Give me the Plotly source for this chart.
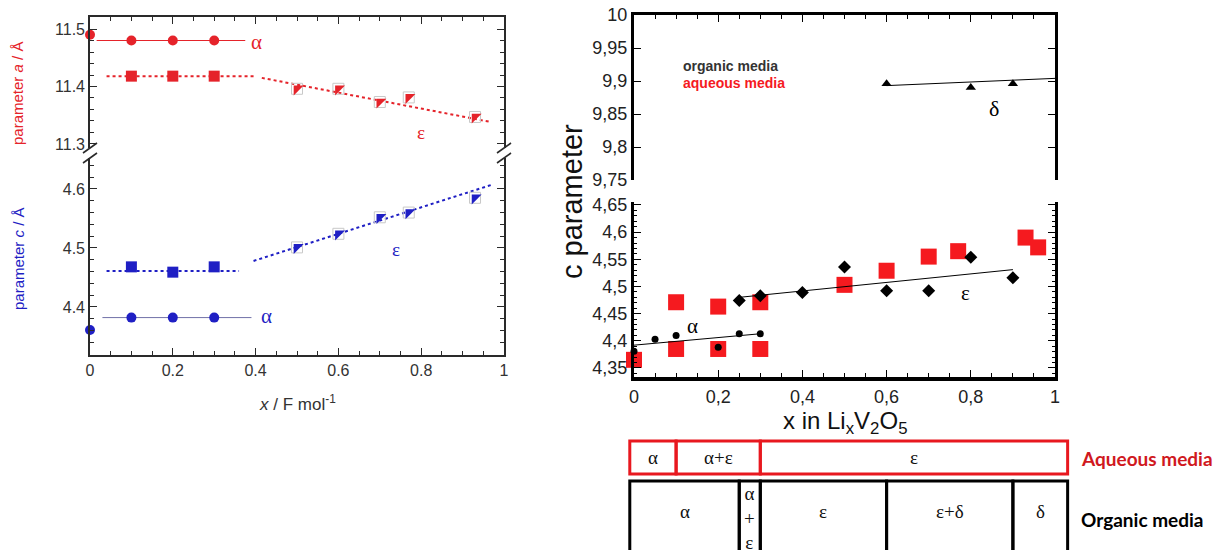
import plotly.graph_objects as go

# The page body adds an 8 px offset; the figure is shrunk by that much and
# every pixel position below is given in window pixels.
OFF = 8
W, H = 1221 - OFF, 550 - OFF

# ---------------- Left panel data ----------------
x_alpha = [0, 0.1, 0.2, 0.3]
a_alpha = [11.49, 11.48, 11.48, 11.48]
x_eps1 = [0.1, 0.2, 0.3]
a_eps1 = [11.418, 11.418, 11.418]
x_eps2 = [0.5, 0.6, 0.7, 0.77, 0.93]
a_eps2 = [11.396, 11.396, 11.373, 11.381, 11.347]
c_alpha = [4.361, 4.382, 4.382, 4.382]
c_eps1 = [4.468, 4.459, 4.468]
c_eps2 = [4.501, 4.524, 4.552, 4.560, 4.585]

a_alpha_fit_x = [0.016, 0.375]; a_alpha_fit_y = [11.48, 11.48]
a_eps_fit1_x = [0.04, 0.40]; a_eps_fit1_y = [11.418, 11.418]
a_eps_fit2_x = [0.415, 0.97]; a_eps_fit2_y = [11.415, 11.338]
c_alpha_fit_x = [0.03, 0.39]; c_alpha_fit_y = [4.382, 4.382]
c_eps_fit1_x = [0.04, 0.36]; c_eps_fit1_y = [4.461, 4.461]
c_eps_fit2_x = [0.395, 0.97]; c_eps_fit2_y = [4.478, 4.607]

left_xticks = [0, 0.2, 0.4, 0.6, 0.8, 1]
left_xticktext = ["0", "0.2", "0.4", "0.6", "0.8", "1"]
left_a_ticks = [11.3, 11.4, 11.5]
left_c_ticks = [4.4, 4.5, 4.6]

# ---------------- Right panel data ----------------
x_delta = [0.6, 0.8, 0.9]
c_delta = [9.896, 9.890, 9.896]
delta_fit_x = [0.6, 1.0]; delta_fit_y = [9.893, 9.904]
x_org_alpha = [0, 0.05, 0.1, 0.2, 0.25, 0.3]
c_org_alpha = [4.381, 4.403, 4.410, 4.388, 4.413, 4.413]
org_alpha_fit_x = [0, 0.3]; org_alpha_fit_y = [4.392, 4.413]
x_org_eps = [0.25, 0.3, 0.4, 0.5, 0.6, 0.7, 0.8, 0.9]
c_org_eps = [4.474, 4.483, 4.489, 4.536, 4.492, 4.492, 4.554, 4.516]
org_eps_fit_x = [0.25, 0.9]; org_eps_fit_y = [4.480, 4.531]
x_aq = [0, 0.1, 0.1, 0.2, 0.2, 0.3, 0.3, 0.5, 0.6, 0.7, 0.77, 0.93, 0.96]
c_aq = [4.365, 4.471, 4.385, 4.463, 4.385, 4.471, 4.385, 4.503, 4.529, 4.555, 4.565, 4.590, 4.572]

right_xticks = [0, 0.2, 0.4, 0.6, 0.8, 1]
right_xticktext = ["0", "0,2", "0,4", "0,6", "0,8", "1"]
right_up_ticks = [9.75, 9.8, 9.85, 9.9, 9.95, 10]
right_up_text = ["9,75", "9,8", "9,85", "9,9", "9,95", "10"]
right_lo_ticks = [4.35, 4.4, 4.45, 4.5, 4.55, 4.6, 4.65]
right_lo_text = ["4,35", "4,4", "4,45", "4,5", "4,55", "4,6", "4,65"]

# Phase table (in x units of the right panel)
aq_bounds = [-0.01, 0.1, 0.3, 1.03]
aq_labels = ["α", "α+ε", "ε"]
org_bounds = [-0.01, 0.25, 0.3, 0.6, 0.9, 1.03]
org_labels = ["α", "α<br>+<br>ε", "ε", "ε+δ", "δ"]

RED = "#e5232a"
BLUE = "#1f1fc4"
RRED = "#f51a1f"
SANS = "Arial, Liberation Sans, sans-serif"
SERIF = "Times New Roman, Liberation Serif, serif"

def px(x):
    return (x - OFF) / W

def py(y):
    return 1 - (y - OFF) / H

fig = go.Figure()

# ---- left upper (x2, y) ----
fig.add_trace(go.Scatter(x=a_alpha_fit_x, y=a_alpha_fit_y, xaxis="x2", yaxis="y", mode="lines",
                         line=dict(color=RED, width=1)))
fig.add_trace(go.Scatter(x=a_eps_fit1_x, y=a_eps_fit1_y, xaxis="x2", yaxis="y", mode="lines",
                         line=dict(color=RED, width=2, dash="dot")))
fig.add_trace(go.Scatter(x=a_eps_fit2_x, y=a_eps_fit2_y, xaxis="x2", yaxis="y", mode="lines",
                         line=dict(color=RED, width=2, dash="dot")))
fig.add_trace(go.Scatter(x=x_alpha, y=a_alpha, xaxis="x2", yaxis="y", mode="markers", cliponaxis=False,
                         marker=dict(symbol="circle", size=10, color=RED)))
fig.add_trace(go.Scatter(x=x_eps1, y=a_eps1, xaxis="x2", yaxis="y", mode="markers",
                         marker=dict(symbol="square", size=11, color=RED)))
fig.add_trace(go.Scatter(x=x_eps2, y=a_eps2, xaxis="x2", yaxis="y", mode="markers",
                         marker=dict(symbol="square-open", size=11, color="#c8c8c8", line=dict(width=1))))
fig.add_trace(go.Scatter(x=x_eps2, y=a_eps2, xaxis="x2", yaxis="y", mode="markers",
                         marker=dict(symbol="triangle-nw", size=11, color=RED)))

# ---- left lower (x, y2) ----
fig.add_trace(go.Scatter(x=c_alpha_fit_x, y=c_alpha_fit_y, xaxis="x", yaxis="y2", mode="lines",
                         line=dict(color="#7070a8", width=1)))
fig.add_trace(go.Scatter(x=c_eps_fit1_x, y=c_eps_fit1_y, xaxis="x", yaxis="y2", mode="lines",
                         line=dict(color=BLUE, width=2, dash="dot")))
fig.add_trace(go.Scatter(x=c_eps_fit2_x, y=c_eps_fit2_y, xaxis="x", yaxis="y2", mode="lines",
                         line=dict(color=BLUE, width=2, dash="dot")))
fig.add_trace(go.Scatter(x=x_alpha, y=c_alpha, xaxis="x", yaxis="y2", mode="markers", cliponaxis=False,
                         marker=dict(symbol="circle", size=10, color=BLUE)))
fig.add_trace(go.Scatter(x=x_eps1, y=c_eps1, xaxis="x", yaxis="y2", mode="markers",
                         marker=dict(symbol="square", size=11, color=BLUE)))
fig.add_trace(go.Scatter(x=x_eps2, y=c_eps2, xaxis="x", yaxis="y2", mode="markers",
                         marker=dict(symbol="square-open", size=11, color="#c8c8c8", line=dict(width=1))))
fig.add_trace(go.Scatter(x=x_eps2, y=c_eps2, xaxis="x", yaxis="y2", mode="markers",
                         marker=dict(symbol="triangle-nw", size=11, color=BLUE)))

# ---- right upper (x4, y3) ----
fig.add_trace(go.Scatter(x=delta_fit_x, y=delta_fit_y, xaxis="x4", yaxis="y3", mode="lines",
                         line=dict(color="black", width=1)))
fig.add_trace(go.Scatter(x=x_delta, y=c_delta, xaxis="x4", yaxis="y3", mode="markers",
                         marker=dict(symbol="triangle-up", size=9, color="black")))

# ---- right lower (x3, y4) ----
fig.add_trace(go.Scatter(x=x_aq, y=c_aq, xaxis="x3", yaxis="y4", mode="markers", cliponaxis=False,
                         marker=dict(symbol="square", size=16, color=RRED)))
fig.add_trace(go.Scatter(x=org_alpha_fit_x, y=org_alpha_fit_y, xaxis="x3", yaxis="y4", mode="lines",
                         line=dict(color="black", width=1)))
fig.add_trace(go.Scatter(x=org_eps_fit_x, y=org_eps_fit_y, xaxis="x3", yaxis="y4", mode="lines",
                         line=dict(color="black", width=1)))
fig.add_trace(go.Scatter(x=x_org_alpha, y=c_org_alpha, xaxis="x3", yaxis="y4", mode="markers", cliponaxis=False,
                         marker=dict(symbol="circle", size=7, color="black")))
fig.add_trace(go.Scatter(x=x_org_eps, y=c_org_eps, xaxis="x3", yaxis="y4", mode="markers",
                         marker=dict(symbol="diamond", size=10, color="black")))

LFRAME = "#2a2a2a"
ltick = dict(ticks="inside", ticklen=7, tickwidth=1.2, tickcolor=LFRAME, showline=True, linecolor=LFRAME,
             linewidth=1.6, showgrid=False, zeroline=False, ticklabeloverflow="allow",
             tickfont=dict(family=SANS, size=16, color="#333"))

lx_dom = [px(90), px(504)]
rx_dom = [px(634), px(1055)]

def tx(v):
    # map right-panel x value to paper fraction
    return rx_dom[0] + v * (rx_dom[1] - rx_dom[0])

layout = dict(
    width=W, height=H, margin=dict(l=0, r=0, t=0, b=0, autoexpand=False),
    paper_bgcolor="white", plot_bgcolor="rgba(0,0,0,0)", showlegend=False,
    xaxis=dict(domain=lx_dom, anchor="y2", range=[0, 1], tickvals=left_xticks, ticktext=left_xticktext,
               minor=dict(dtick=0.05, tick0=0, ticks="inside", ticklen=4, tickcolor=LFRAME), **ltick),
    xaxis2=dict(domain=lx_dom, anchor="y", side="top", range=[0, 1], tickvals=left_xticks,
                showticklabels=False,
                minor=dict(dtick=0.05, tick0=0, ticks="inside", ticklen=4, tickcolor=LFRAME), **ltick),
    yaxis=dict(domain=[py(148), py(17)], anchor="x2", range=[11.293, 11.5209], tickvals=left_a_ticks,
               ticktext=["11.3", "11.4", "11.5"], mirror="ticks",
               minor=dict(dtick=0.02, tick0=11.3, ticks="inside", ticklen=4, tickcolor=LFRAME), **ltick),
    yaxis2=dict(domain=[py(355), py(158)], anchor="x", range=[4.3186, 4.6525], tickvals=left_c_ticks,
                ticktext=["4.4", "4.5", "4.6"], mirror="ticks",
                minor=dict(dtick=0.02, tick0=4.3, ticks="inside", ticklen=4, tickcolor=LFRAME), **ltick),
)

rtick = dict(ticks="inside", ticklen=7, tickwidth=1.2, tickcolor="black", showline=True, linecolor="black",
             linewidth=3, showgrid=False, zeroline=False, ticklabeloverflow="allow",
             tickfont=dict(family=SANS, size=18, color="#222"))

layout.update(
    xaxis3=dict(domain=rx_dom, anchor="y4", range=[0, 1], tickvals=right_xticks, ticktext=right_xticktext,
                minor=dict(dtick=0.05, tick0=0, ticks="inside", ticklen=4, tickcolor="black"), **rtick),
    xaxis4=dict(domain=rx_dom, anchor="y3", side="top", range=[0, 1], tickvals=right_xticks,
                showticklabels=False,
                minor=dict(dtick=0.05, tick0=0, ticks="inside", ticklen=4, tickcolor="black"), **rtick),
    yaxis3=dict(domain=[py(180), py(15)], anchor="x4", range=[9.75, 10], tickvals=right_up_ticks,
                ticktext=right_up_text, mirror="ticks", **rtick),
    yaxis4=dict(domain=[py(377), py(202)], anchor="x3", range=[4.3334, 4.6555], tickvals=right_lo_ticks,
                ticktext=right_lo_text, mirror="ticks",
                minor=dict(dtick=0.01, tick0=4.35, ticks="inside", ticklen=3, tickcolor="black"), **rtick),
)
layout["xaxis3"]["linewidth"] = 4
fig.update_layout(**layout)

ann = []

def pann(xp, yp, text, font, xanchor="center", yanchor="middle", angle=0):
    ann.append(dict(x=xp, y=yp, xref="paper", yref="paper", text=text, showarrow=False,
                    xanchor=xanchor, yanchor=yanchor, textangle=angle, font=font))

# left panel labels
ann.append(dict(x=0.403, y=11.477, xref="x2", yref="y", text="α", showarrow=False,
                font=dict(family=SERIF, size=21, color=RED)))
ann.append(dict(x=0.80, y=11.32, xref="x2", yref="y", text="ε", showarrow=False,
                font=dict(family=SERIF, size=19, color=RED)))
ann.append(dict(x=0.738, y=4.497, xref="x", yref="y2", text="ε", showarrow=False,
                font=dict(family=SERIF, size=19, color=BLUE)))
ann.append(dict(x=0.427, y=4.384, xref="x", yref="y2", text="α", showarrow=False,
                font=dict(family=SERIF, size=21, color=BLUE)))
pann(px(18), py(94), "parameter <i>a</i> / Å", dict(family=SANS, size=15, color=RED), angle=-90)
pann(px(18), py(259), "parameter <i>c</i> / Å", dict(family=SANS, size=15, color=BLUE), angle=-90)
pann(px(297), py(403), "<i>x</i> / F mol<sup>-1</sup>", dict(family=SANS, size=17, color="#333"))

# right panel labels
ann.append(dict(x=0.14, y=4.428, xref="x3", yref="y4", text="α", showarrow=False,
                font=dict(family=SERIF, size=21, color="black")))
ann.append(dict(x=0.787, y=4.488, xref="x3", yref="y4", text="ε", showarrow=False,
                font=dict(family=SERIF, size=21, color="black")))
ann.append(dict(x=0.854, y=9.859, xref="x4", yref="y3", text="δ", showarrow=False,
                font=dict(family=SERIF, size=22, color="black")))
ann.append(dict(x=0.112, y=9.923, xref="x4", yref="y3", text="<b>organic media</b>", xanchor="left",
                showarrow=False, font=dict(family=SANS, size=14, color="#333")))
ann.append(dict(x=0.112, y=9.897, xref="x4", yref="y3", text="<b>aqueous media</b>", xanchor="left",
                showarrow=False, font=dict(family=SANS, size=14, color=RRED)))
pann(px(572), py(202), "c parameter", dict(family=SANS, size=29, color="#111"), angle=-90)
pann(px(845), py(422), "x in Li<sub>x</sub>V<sub>2</sub>O<sub>5</sub>", dict(family=SANS, size=24, color="#111"))

shapes = []
# break marks on left panel frame
for xb in (90, 504):
    for yb in (148, 158):
        shapes.append(dict(type="line", xref="paper", yref="paper",
                           x0=px(xb - 7), y0=py(yb + 5), x1=px(xb + 7), y1=py(yb - 5),
                           line=dict(color=LFRAME, width=1.6)))

# phase table
AQ_TOP, AQ_BOT = py(441), py(474)
OR_TOP, OR_BOT = py(481), py(580)
TRED = "#e8181f"
TFONT = dict(family=SERIF, size=19, color="#111")
for i, lab in enumerate(aq_labels):
    shapes.append(dict(type="rect", xref="paper", yref="paper", x0=tx(aq_bounds[i]), x1=tx(aq_bounds[i + 1]),
                       y0=AQ_BOT, y1=AQ_TOP, line=dict(color=TRED, width=3)))
    pann(tx((aq_bounds[i] + aq_bounds[i + 1]) / 2), (AQ_TOP + AQ_BOT) / 2, lab, TFONT)
for i, lab in enumerate(org_labels):
    shapes.append(dict(type="rect", xref="paper", yref="paper", x0=tx(org_bounds[i]), x1=tx(org_bounds[i + 1]),
                       y0=OR_BOT, y1=OR_TOP, line=dict(color="black", width=3)))
    if "<br>" in lab:
        pann(tx((org_bounds[i] + org_bounds[i + 1]) / 2), py(481), lab, TFONT, yanchor="top")
    else:
        pann(tx((org_bounds[i] + org_bounds[i + 1]) / 2), py(511), lab, TFONT)
pann(px(1079), py(458), "<b>Aqueous media</b>", dict(family="Lato, Open Sans, sans-serif", size=19, color="#d01820"),
     xanchor="left")
pann(px(1079), py(519), "<b>Organic media</b>", dict(family="Lato, Open Sans, sans-serif", size=19, color="black"),
     xanchor="left")

fig.update_layout(annotations=ann, shapes=shapes)
fig.write_html("out.html")
